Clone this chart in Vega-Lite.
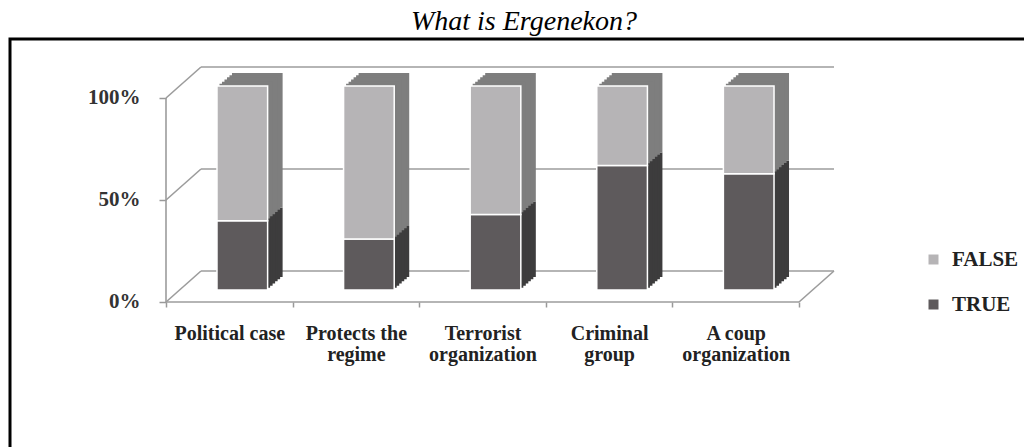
{
  "$schema": "https://vega.github.io/schema/vega-lite/v6.json",
  "width": 1016,
  "height": 412,
  "autosize": {"type": "none"},
  "padding": {"left": 10, "top": 39, "right": 0, "bottom": 0},
  "background": "white",
  "config": {"view": {"stroke": "black", "strokeWidth": 3}},
  "title": {"text": "What is Ergenekon?", "font": "Liberation Serif", "fontStyle": "italic", "fontWeight": "normal", "fontSize": 28, "color": "#000", "anchor": "middle", "offset": 3, "dx": 6},
  "data": {"values": [
    {"category": "Political case", "series": "TRUE", "pct": 34},
    {"category": "Political case", "series": "FALSE", "pct": 66},
    {"category": "Protects the regime", "series": "TRUE", "pct": 25},
    {"category": "Protects the regime", "series": "FALSE", "pct": 75},
    {"category": "Terrorist organization", "series": "TRUE", "pct": 37},
    {"category": "Terrorist organization", "series": "FALSE", "pct": 63},
    {"category": "Criminal group", "series": "TRUE", "pct": 61},
    {"category": "Criminal group", "series": "FALSE", "pct": 39},
    {"category": "A coup organization", "series": "TRUE", "pct": 57},
    {"category": "A coup organization", "series": "FALSE", "pct": 43}
  ]},
  "layer": [
    {
      "data": {"values": [{"tick": 0}, {"tick": 50}, {"tick": 100}]},
      "mark": {"type": "rule", "color": "#9c9c9c", "strokeWidth": 1.6, "x2Offset": 35, "y2Offset": -31},
      "encoding": {
        "x": {"datum": "Political case", "type": "nominal", "bandPosition": 0},
        "x2": {"datum": "Political case", "bandPosition": 0},
        "y": {"field": "tick", "type": "quantitative"},
        "y2": {"field": "tick"}
      }
    },
    {
      "data": {"values": [{"tick": 0}, {"tick": 50}, {"tick": 100}]},
      "mark": {"type": "rule", "color": "#9c9c9c", "strokeWidth": 1.6, "xOffset": 35, "x2Offset": 35, "yOffset": -31, "y2Offset": -31},
      "encoding": {
        "x": {"datum": "Political case", "type": "nominal", "bandPosition": 0},
        "x2": {"datum": "A coup organization", "bandPosition": 1},
        "y": {"field": "tick", "type": "quantitative"},
        "y2": {"field": "tick"}
      }
    },
    {
      "data": {"values": [{}]},
      "mark": {"type": "rule", "color": "#9c9c9c", "strokeWidth": 1.6},
      "encoding": {
        "x": {"datum": "Political case", "type": "nominal", "bandPosition": 0},
        "x2": {"datum": "A coup organization", "bandPosition": 1},
        "y": {"datum": 0, "type": "quantitative"}
      }
    },
    {
      "data": {"values": [{}]},
      "mark": {"type": "rule", "color": "#9c9c9c", "strokeWidth": 1.6, "x2Offset": 35, "y2Offset": -31},
      "encoding": {
        "x": {"datum": "A coup organization", "type": "nominal", "bandPosition": 1},
        "x2": {"datum": "A coup organization", "bandPosition": 1},
        "y": {"datum": 0, "type": "quantitative"},
        "y2": {"datum": 0}
      }
    },
    {
      "data": {"values": [{}]},
      "mark": {"type": "rule", "color": "#9c9c9c", "strokeWidth": 1.6},
      "encoding": {
        "x": {"datum": "Political case", "type": "nominal", "bandPosition": 0},
        "y": {"datum": 0, "type": "quantitative"},
        "y2": {"datum": 100}
      }
    },
    {
      "mark": {"type": "bar", "width": {"band": 0.4}, "xOffset": 28, "x2Offset": 28, "yOffset": -25, "y2Offset": -25},
      "encoding": {
        "x": {"field": "category", "type": "nominal"},
        "y": {"field": "pct", "type": "quantitative"},
        "detail": {"field": "series", "type": "nominal"},
        "fill": {"condition": {"test": "datum.series == 'TRUE'", "value": "#3d3c3d"}, "value": "#7e7e7e"},
        "order": {"field": "series", "sort": "descending"}
      }
    },
    {
      "mark": {"type": "bar", "width": {"band": 0.4}, "xOffset": 25.5, "x2Offset": 25.5, "yOffset": -22.8, "y2Offset": -22.8},
      "encoding": {
        "x": {"field": "category", "type": "nominal"},
        "y": {"field": "pct", "type": "quantitative"},
        "detail": {"field": "series", "type": "nominal"},
        "fill": {"condition": {"test": "datum.series == 'TRUE'", "value": "#3d3c3d"}, "value": "#7e7e7e"},
        "order": {"field": "series", "sort": "descending"}
      }
    },
    {
      "mark": {"type": "bar", "width": {"band": 0.4}, "xOffset": 23, "x2Offset": 23, "yOffset": -20.7, "y2Offset": -20.7},
      "encoding": {
        "x": {"field": "category", "type": "nominal"},
        "y": {"field": "pct", "type": "quantitative"},
        "detail": {"field": "series", "type": "nominal"},
        "fill": {"condition": {"test": "datum.series == 'TRUE'", "value": "#3d3c3d"}, "value": "#7e7e7e"},
        "order": {"field": "series", "sort": "descending"}
      }
    },
    {
      "mark": {"type": "bar", "width": {"band": 0.4}, "xOffset": 20.5, "x2Offset": 20.5, "yOffset": -18.5, "y2Offset": -18.5},
      "encoding": {
        "x": {"field": "category", "type": "nominal"},
        "y": {"field": "pct", "type": "quantitative"},
        "detail": {"field": "series", "type": "nominal"},
        "fill": {"condition": {"test": "datum.series == 'TRUE'", "value": "#3d3c3d"}, "value": "#7e7e7e"},
        "order": {"field": "series", "sort": "descending"}
      }
    },
    {
      "mark": {"type": "bar", "width": {"band": 0.4}, "xOffset": 18, "x2Offset": 18, "yOffset": -16.3, "y2Offset": -16.3},
      "encoding": {
        "x": {"field": "category", "type": "nominal"},
        "y": {"field": "pct", "type": "quantitative"},
        "detail": {"field": "series", "type": "nominal"},
        "fill": {"condition": {"test": "datum.series == 'TRUE'", "value": "#3d3c3d"}, "value": "#7e7e7e"},
        "order": {"field": "series", "sort": "descending"}
      }
    },
    {
      "mark": {"type": "bar", "width": {"band": 0.4}, "xOffset": 15.5, "x2Offset": 15.5, "yOffset": -14.2, "y2Offset": -14.2},
      "encoding": {
        "x": {"field": "category", "type": "nominal"},
        "y": {"field": "pct", "type": "quantitative"},
        "detail": {"field": "series", "type": "nominal"},
        "fill": {"condition": {"test": "datum.series == 'TRUE'", "value": "#3d3c3d"}, "value": "#7e7e7e"},
        "order": {"field": "series", "sort": "descending"}
      }
    },
    {
      "mark": {"type": "bar", "width": {"band": 0.4}, "xOffset": 13, "x2Offset": 13, "yOffset": -12, "y2Offset": -12, "stroke": "white", "strokeWidth": 1.5},
      "encoding": {
        "x": {"field": "category", "type": "nominal",
          "scale": {"type": "band", "domain": ["Political case", "Protects the regime", "Terrorist organization", "Criminal group", "A coup organization"], "range": [156, 789], "paddingInner": 0, "paddingOuter": 0},
          "axis": {"orient": "bottom", "offset": -149, "domain": false, "grid": false, "tickBand": "extent", "ticks": true, "tickSize": 5, "tickColor": "#999", "tickWidth": 1.5, "labelAngle": 0, "labelAlign": "center", "labelBaseline": "top", "labelFont": "Liberation Serif", "labelFontWeight": "bold", "labelFontSize": 20, "labelColor": "#222", "labelPadding": 16, "labelLineHeight": 21, "labelLimit": 300, "title": null, "labelExpr": "('' + datum.label) == 'Political case' ? ('' + datum.label) : split(replace('' + datum.label, /^(.*) ([^ ]+)$/, '$1|$2'), '|')"}},
        "y": {"field": "pct", "type": "quantitative",
          "scale": {"domain": [-73.04, 128.92], "nice": false, "zero": false},
          "axis": {"orient": "left", "offset": -156, "values": [0, 50, 100], "domain": false, "grid": false, "tickSize": 7, "tickColor": "#999", "tickWidth": 1.5, "labelFont": "Liberation Serif", "labelFontWeight": "bold", "labelFontSize": 21, "labelColor": "#333", "labelPadding": 19, "labelExpr": "datum.label + '%'", "title": null}},
        "color": {"field": "series", "type": "nominal", "scale": {"domain": ["FALSE", "TRUE"], "range": ["#b6b4b6", "#5e5a5c"]},
          "legend": {"orient": "none", "legendX": 913, "legendY": 210, "title": null, "symbolType": "square", "symbolSize": 100, "symbolStrokeWidth": 0, "labelFont": "Liberation Serif", "labelFontWeight": "bold", "labelFontSize": 21, "labelColor": "#222", "labelOffset": 8, "rowPadding": 23, "padding": 0}},
        "order": {"field": "series", "sort": "descending"}
      }
    }
  ]
}
